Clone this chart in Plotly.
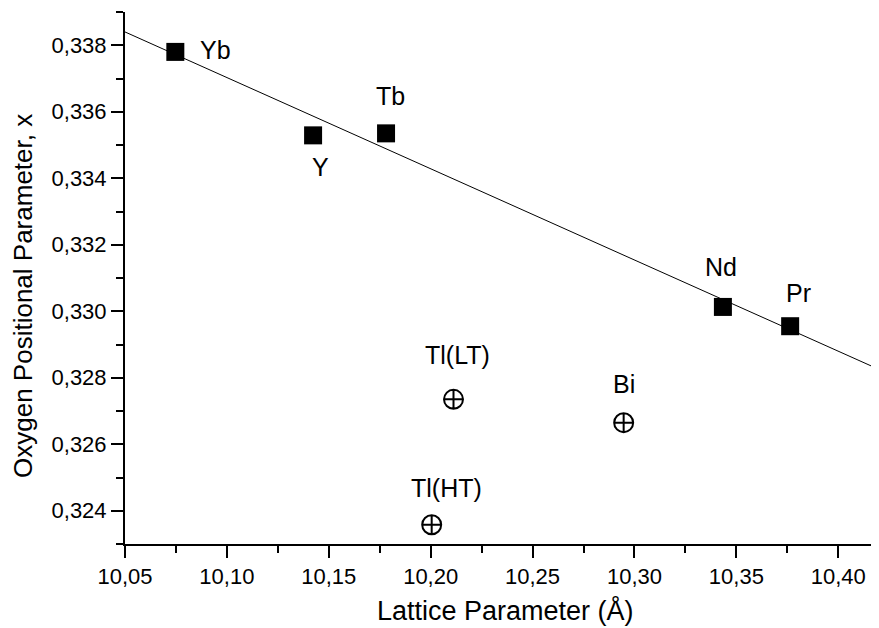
import plotly.graph_objects as go

# Rare-earth compounds (filled squares)
re_labels = ["Yb", "Y", "Tb", "Nd", "Pr"]
re_a = [10.0747, 10.1423, 10.1781, 10.3434, 10.3764]
re_x = [0.3378, 0.33529, 0.33535, 0.33013, 0.32955]

# Other compounds (circle-cross)
ot_labels = ["Tl(LT)", "Bi", "Tl(HT)"]
ot_a = [10.2112, 10.2947, 10.2005]
ot_x = [0.32735, 0.32665, 0.32358]

# Linear fit line
fit_a = [10.05, 10.42]
fit_x = [0.3384, 0.32825]

FONT = "Liberation Sans, Arial, Helvetica, sans-serif"

fig = go.Figure()
fig.add_trace(go.Scatter(x=fit_a, y=fit_x, mode="lines",
                         line=dict(color="black", width=1), showlegend=False,
                         hoverinfo="skip"))
fig.add_trace(go.Scatter(x=re_a, y=re_x, mode="markers",
                         marker=dict(symbol="square", size=18, color="black",
                                     line=dict(width=0)),
                         showlegend=False))
fig.add_trace(go.Scatter(x=ot_a, y=ot_x, mode="markers",
                         marker=dict(symbol="circle-cross-open", size=19, color="black",
                                     line=dict(width=2, color="black")),
                         showlegend=False))

# label placements: (xshift, yshift) in pixels relative to point
label_offsets = {
    "Yb": (40, 2),
    "Y": (7, -32),
    "Tb": (4, 37),
    "Nd": (-2, 40),
    "Pr": (8, 33),
    "Tl(LT)": (4, 44),
    "Bi": (0, 39),
    "Tl(HT)": (15, 37),
}
for lab, a, x in list(zip(re_labels, re_a, re_x)) + list(zip(ot_labels, ot_a, ot_x)):
    dx, dy = label_offsets[lab]
    fig.add_annotation(x=a, y=x, text=lab, showarrow=False,
                       xshift=dx, yshift=dy,
                       font=dict(family=FONT, size=25, color="black"))

# axis titles
fig.add_annotation(xref="paper", yref="paper", x=0.5053, y=-0.1255,
                   text="Lattice Parameter (Å)", showarrow=False,
                   xanchor="center", yanchor="middle",
                   font=dict(family=FONT, size=27, color="black"))
fig.add_annotation(xref="paper", yref="paper", x=-0.1353, y=0.4662,
                   text="Oxygen Positional Parameter, x", showarrow=False,
                   textangle=-90, xanchor="center", yanchor="middle",
                   font=dict(family=FONT, size=26, color="black"))

axis_common = dict(showline=True, linecolor="black", linewidth=2,
                   ticks="outside", ticklen=12, tickwidth=2, tickcolor="black",
                   showgrid=False, zeroline=False, mirror=False,
                   tickfont=dict(family=FONT, size=22, color="black"))

fig.update_xaxes(range=[10.05, 10.42], dtick=0.05, tick0=10.05, tickformat=".2f",
                 minor=dict(ticks="outside", ticklen=7, tickwidth=2, tickcolor="black",
                            dtick=0.025, tick0=10.05),
                 **axis_common)
fig.update_yaxes(range=[0.323, 0.339], dtick=0.002, tick0=0.324, tickformat=".3f",
                 minor=dict(ticks="outside", ticklen=7, tickwidth=2, tickcolor="black",
                            dtick=0.001, tick0=0.323),
                 **axis_common)

# page body has an 8px margin, so the figure is sized/offset to compensate
fig.update_layout(width=871, height=620,
                  margin=dict(l=117, r=0, t=4, b=84, autoexpand=False),
                  plot_bgcolor="white", paper_bgcolor="white",
                  separators=",.",
                  font=dict(family=FONT, color="black"))

fig.write_html("out.html")
